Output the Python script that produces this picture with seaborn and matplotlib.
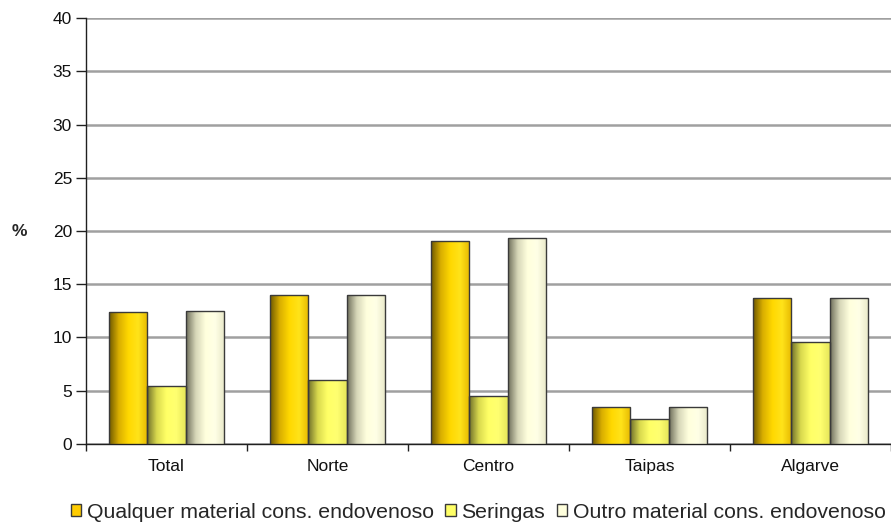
import numpy as np
import pandas as pd
import matplotlib
matplotlib.use("Agg")
import matplotlib.pyplot as plt
from matplotlib.colors import LinearSegmentedColormap
import seaborn as sns

# dados
regioes = ["Total", "Norte", "Centro", "Taipas", "Algarve"]
series = ["Qualquer material cons. endovenoso", "Seringas", "Outro material cons. endovenoso"]
qualquer = [12.4, 14.0, 19.1, 3.5, 13.7]
seringas = [5.4, 6.0, 4.5, 2.3, 9.6]
outro = [12.5, 14.0, 19.3, 3.5, 13.7]

cores = ["#FFCC00", "#FFFF66", "#FFFFDD"]
# gradiente horizontal de cada serie (escuro -> claro -> meio)
gradientes = [
    ["#6E5800", "#D9AE00", "#FFD800", "#FFE31A", "#E6B800"],
    ["#6E6E2A", "#D9D94E", "#FFFF66", "#FFFF70", "#E6E65A"],
    ["#6E6E5A", "#D6D6B8", "#FFFFDD", "#FFFFE6", "#E8E8C8"],
]

df = pd.DataFrame({
    "Regiao": regioes * 3,
    "Valor": qualquer + seringas + outro,
    "Serie": [series[0]] * 5 + [series[1]] * 5 + [series[2]] * 5,
})

sns.set_theme(style="white")
plt.rcParams["font.family"] = ["Liberation Sans", "DejaVu Sans"]

fig = plt.figure(figsize=(8.91, 5.24), dpi=100)
ax = fig.add_axes([0.0965, 0.1527, 0.9035, 0.8129])

sns.barplot(data=df, x="Regiao", y="Valor", hue="Serie", order=regioes,
            hue_order=series, palette=cores, width=0.71, gap=0,
            edgecolor="#3A3A3A", linewidth=1.0, ax=ax, zorder=3)

# preenchimento em gradiente dentro de cada barra
grad = np.linspace(0, 1, 256).reshape(1, -1)
for i, cont in enumerate(ax.containers):
    cmap = LinearSegmentedColormap.from_list("g%d" % i, gradientes[i])
    for p in cont.patches:
        x0, y0 = p.get_x(), p.get_y()
        w, h = p.get_width(), p.get_height()
        im = ax.imshow(grad, cmap=cmap, aspect="auto",
                       extent=[x0, x0 + w, y0, y0 + h], zorder=3.5)
        im.set_clip_path(p)
        p.set_facecolor("none")
        p.set_zorder(4)

ax.set_xlim(-0.5, 4.5)
ax.set_ylim(0, 40)
ax.set_yticks(range(0, 41, 5))
ax.yaxis.grid(True, color="#A0A0A0", linewidth=1.8, zorder=0)
ax.set_axisbelow(True)

for s in ["top", "right"]:
    ax.spines[s].set_visible(False)
ax.spines["left"].set_color("#202020")
ax.spines["bottom"].set_color("#202020")
ax.spines["left"].set_linewidth(1.0)
ax.spines["bottom"].set_linewidth(1.0)

ax.set_xticks(np.arange(-0.5, 4.6, 1.0), minor=True)
ax.tick_params(axis="x", which="major", length=0, labelsize=12.5, pad=11, colors="#111111")
ax.tick_params(axis="x", which="minor", length=5, width=1, color="#202020", direction="out", bottom=True)
ax.tick_params(axis="y", length=7, width=1, color="#202020", direction="out",
               labelsize=12.5, left=True, colors="#111111", pad=3)

ax.set_xlabel("")
ax.set_ylabel("%", rotation=0, fontsize=12.5, fontweight="bold", labelpad=24, va="center")

handles, labels = ax.get_legend_handles_labels()
for h, c in zip(handles, cores):
    h.set_facecolor(c)
    h.set_edgecolor("#3A3A3A")
ax.legend(handles, labels, loc="center", bbox_to_anchor=(0.487, -0.16),
          ncol=3, frameon=False, fontsize=15.3, handlelength=0.5, handleheight=0.5,
          handletextpad=0.25, columnspacing=0.55, borderaxespad=0)

fig.savefig("out.png", dpi=100)
